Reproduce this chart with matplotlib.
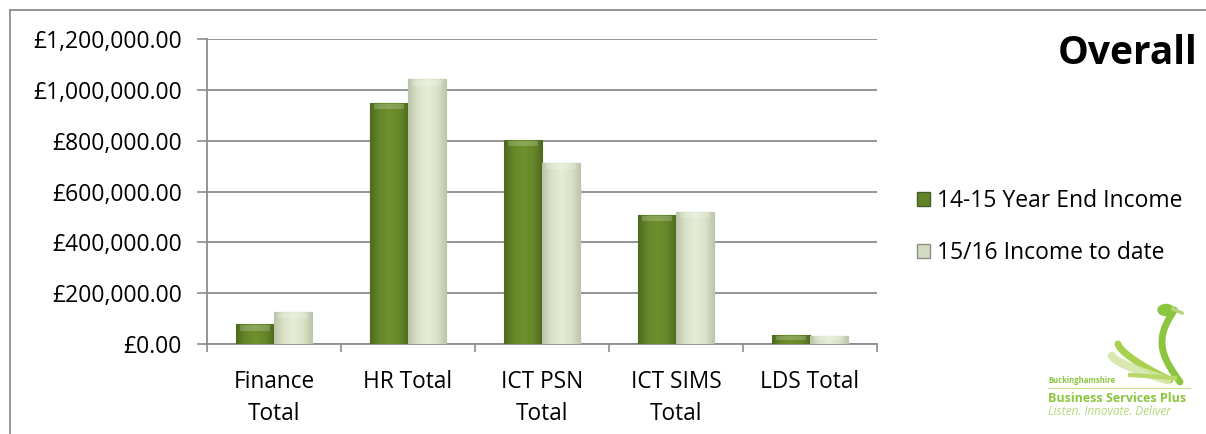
import matplotlib
matplotlib.use("Agg")
import matplotlib.pyplot as plt
import numpy as np
from matplotlib.patches import Rectangle, Ellipse
from matplotlib.lines import Line2D
from matplotlib.colors import LinearSegmentedColormap

categories = ["Finance\nTotal", "HR Total", "ICT PSN\nTotal", "ICT SIMS\nTotal", "LDS Total"]
series_names = ["14-15 Year End Income", "15/16 Income to date"]
income_1415 = [77000, 947000, 802000, 507000, 35000]
income_1516 = [125000, 1041000, 712000, 518000, 33000]
yticks = [0, 200000, 400000, 600000, 800000, 1000000, 1200000]

plt.rcParams['font.family'] = ['Open Sans', 'DejaVu Sans']

fig = plt.figure(figsize=(12.06, 4.34), dpi=100)
W, H = 1206, 434
ax = fig.add_axes([207 / W, 1 - 344 / H, (877 - 207) / W, (344 - 39) / H])

x = np.arange(len(categories))
bw = 0.285
dark_cmap = LinearSegmentedColormap.from_list("d", ["#4d6a1e", "#668829", "#6e902d", "#668829", "#4d6a1e"])
light_cmap = LinearSegmentedColormap.from_list("l", ["#bcc5aa", "#dae3c8", "#e4edd6", "#dae3c8", "#bcc5aa"])
b1 = ax.bar(x - bw / 2, income_1415, bw, color="#628426", edgecolor="#4a5a30", linewidth=0.8, zorder=3)
b2 = ax.bar(x + bw / 2, income_1516, bw, color="#dfe7d0", edgecolor="#8a9080", linewidth=0.8, zorder=3)

grad = np.linspace(0, 1, 64).reshape(1, -1)
for bars, cm in ((b1, dark_cmap), (b2, light_cmap)):
    for r in bars:
        x0, y0 = r.get_x(), r.get_y()
        w, h = r.get_width(), r.get_height()
        im = ax.imshow(grad, cmap=cm, aspect="auto", extent=[x0, x0 + w, y0, y0 + h],
                       zorder=3.5, interpolation="bicubic")
        im.set_clip_path(r)
        bev = min(h * 0.5, 24000)
        ax.add_patch(Rectangle((x0 + w * 0.1, y0 + h - bev), w * 0.8, bev * 0.85,
                               facecolor="white", alpha=0.2, edgecolor="none", zorder=3.6))

ax.set_xlim(-0.5, len(categories) - 0.5)
ax.set_ylim(0, 1200000)
ax.set_yticks(yticks)
ax.set_yticklabels(["£{:,.2f}".format(v) for v in yticks], fontsize=16.5)
ax.set_xticks(np.arange(-0.5, len(categories), 1.0))
ax.set_xticklabels([])
ax.set_xticks(x, minor=True)
ax.set_xticklabels(categories, minor=True, fontsize=16.3, linespacing=1.45)
ax.tick_params(axis="x", which="minor", length=0, pad=19)
ax.tick_params(axis="x", which="major", length=6, color="#8c8c8c", width=1.2, direction="out")
ax.tick_params(axis="y", length=7, color="#8c8c8c", width=1.2, pad=11)
ax.grid(axis="y", color="#8c8c8c", linewidth=1.3, zorder=0)
ax.set_axisbelow(True)
for s in ("top", "right"):
    ax.spines[s].set_visible(False)
for s in ("left", "bottom"):
    ax.spines[s].set_color("#8c8c8c")
    ax.spines[s].set_linewidth(1.3)

fig.add_artist(Line2D([10 / W, 10 / W], [0, 1 - 10 / H], transform=fig.transFigure, color="#8c8c8c", lw=1.3))
fig.add_artist(Line2D([10 / W, 1], [1 - 10 / H, 1 - 10 / H], transform=fig.transFigure, color="#8c8c8c", lw=1.3))

fig.text(1197 / W, 1 - 54 / H, "Overall", fontsize=28, fontweight="bold", ha="right", va="center")

handles = [Rectangle((0, 0), 1, 1, facecolor="#628426", edgecolor="#4a5a30"),
           Rectangle((0, 0), 1, 1, facecolor="#d3dbc3", edgecolor="#8a9080")]
fig.legend(handles, series_names, loc="center left", bbox_to_anchor=(908 / W, 1 - 227 / H),
           frameon=False, fontsize=16.5, handlelength=0.55, handleheight=0.55, handletextpad=0.3,
           labelspacing=1.2, borderaxespad=0)

# logo
lax = fig.add_axes([1040 / W, 1 - 432 / H, 160 / W, 137 / H])
lax.set_xlim(0, 160)
lax.set_ylim(0, 137)
lax.axis("off")
t = np.linspace(0, 1, 60)
# neck (S-curve) and head
lax.plot(140 - 18 * np.sin(t * np.pi * 0.9), 50 + 72 * t, color="#8cc63f", lw=5, solid_capstyle="round")
lax.add_patch(Ellipse((126, 122), 16, 11, color="#8cc63f"))
lax.plot([133, 142], [123, 119], color="#b5d77a", lw=2.5)
# wings
lax.plot(78 + 52 * t, 88 - 36 * t ** 0.7, color="#a7d14f", lw=5, solid_capstyle="round")
lax.plot(72 + 55 * t, 76 - 24 * t ** 0.7, color="#d4e6a8", lw=6, alpha=0.9, solid_capstyle="round")
lax.plot(90 + 45 * t, 57 - 3 * t, color="#b8d86a", lw=3)
lax.text(8, 49, "Buckinghamshire", fontsize=5.5, color="#8cc63f", fontweight="bold")
lax.plot([8, 150], [44, 44], color="#c8e08a", lw=0.8)
lax.text(8, 30, "Business Services Plus", fontsize=9, color="#8cc63f", fontweight="bold")
lax.text(8, 17, "Listen. Innovate. Deliver", fontsize=8.5, color="#b5d77a", style="italic")

fig.savefig("out.png", dpi=100)
